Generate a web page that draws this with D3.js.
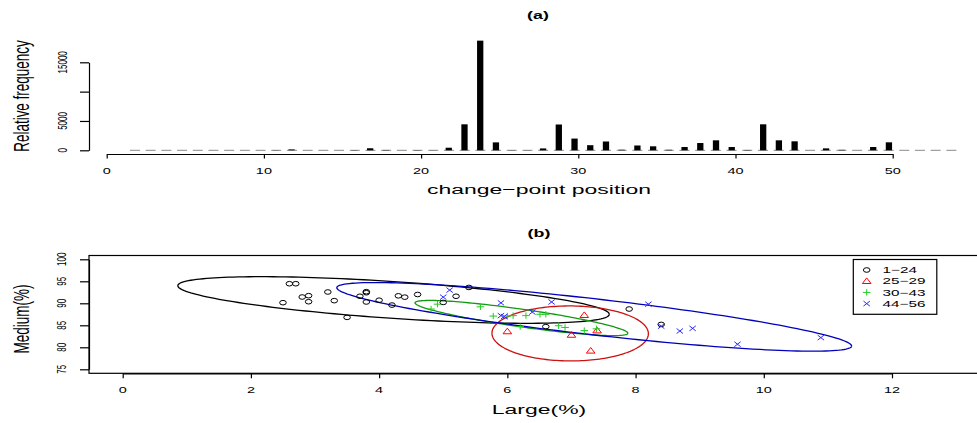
<!DOCTYPE html>
<html>
<head>
<meta charset="utf-8">
<script src="https://cdn.jsdelivr.net/npm/d3@7"></script>
<style>
  body { margin: 0; background: #fff; }
  text { font-family: "Liberation Sans", Arial, sans-serif; fill: #000; }
  .domain, .tick line { stroke-width: 1.2; }
</style>
</head>
<body>
<div id="container"></div>
<script>

// 1. The data

// (a) histogram of change-point positions
const positions = [2, 3, 4, 5, 6, 7, 8, 9, 10, 11, 12, 13, 14, 15, 16, 17, 18, 19, 20, 21,
    22, 23, 24, 25, 26, 27, 28, 29, 30, 31, 32, 33, 34, 35, 36, 37, 38, 39, 40, 41,
    42, 43, 44, 45, 46, 47, 48, 49, 50, 51, 52, 53, 54];
const frequencies = [0, 0, 0, 0, 0, 0, 0, 0, 0, 30, 150, 0, 0, 0, 40, 350, 60, 0, 40, 20,
    440, 4430, 18690, 1350, 30, 20, 320, 4400, 2000, 870, 1500, 100, 820, 680, 90, 560, 1240, 1700, 560, 60,
    4430, 1700, 1530, 0, 330, 80, 0, 560, 1360, 0, 0, 0, 0];
const ticksA_x = [0, 10, 20, 30, 40, 50];
const ticksA_y = [0, 5000, 10000, 15000];
const tickLabelsA_y = ["0", "5000", "", "15000"];

// (b) scatter, one list per group
const groups = ["1\u221224", "25\u221229", "30\u221243", "44\u221256"];
const largeG1 = [2.6, 2.7, 2.5, 2.8, 2.9, 2.9, 3.2, 3.3, 3.5, 3.7, 3.8, 3.8, 3.8, 4.0, 4.2, 4.3, 4.4, 4.6, 5.0, 5.2, 5.4, 7.9, 6.6, 8.4];
const mediumG1 = [94.45, 94.45, 90.14, 91.43, 91.73, 90.36, 92.57, 90.6, 86.8, 91.6, 92.64, 92.4, 90.3, 90.7, 89.6, 91.7, 91.4, 92.0, 90.2, 91.6, 93.6, 88.7, 84.7, 85.2];
const largeG2 = [7.2, 6.0, 7.0, 7.4, 7.3];
const mediumG2 = [87.3, 83.6, 82.8, 83.8, 79.2];
const largeG3 = [4.81, 4.91, 5.58, 5.78, 6.0, 6.09, 6.29, 6.51, 6.60, 6.20, 6.80, 6.90, 7.20, 7.39];
const mediumG3 = [88.7, 89.8, 89.2, 87.1, 87.1, 87.2, 87.2, 87.5, 87.5, 84.7, 84.9, 84.5, 83.8, 84.2];
const largeG4 = [5.0, 5.1, 5.9, 6.69, 8.2, 5.9, 5.95, 6.39, 8.4, 8.69, 8.89, 9.59, 10.89];
const mediumG4 = [91.4, 93.0, 90.1, 90.3, 89.8, 87.2, 87.0, 88.0, 84.8, 83.7, 84.3, 80.7, 82.2];

// ellipse of each group: centre, half extent in x, half extent in y, cos of phase
const ellCx = [4.225, 6.98, 6.22, 7.355];
const ellCy = [90.75, 83.15, 86.65, 86.92];
const ellA = [3.365, 1.22, 1.66, 4.015];
const ellB = [5.3, 6.25, 4.0, 7.8];
const ellCosD = [-0.613, -0.01, -0.8625, -0.849];

const ticksB_x = [0, 2, 4, 6, 8, 10, 12];
const ticksB_y = [75, 80, 85, 90, 95, 100];

// 2. Styles
const sx = 1.7;   // the picture is stretched sideways
const pointColors = ["#000000", "#ff0000", "#22cc22", "#2a2aff"];
const ellColors = ["#000000", "#cc1111", "#119911", "#0000bb"];

const width = 977;
const height = 423;

const svg = d3.select("#container")
              .append("svg")
              .attr("width", width)
              .attr("height", height)
              .style("display", "block");

svg.append("rect").attr("width", width).attr("height", height).attr("fill", "#fff");

function stretchText(g, x, y, str, size, opts) {
    opts = opts || {};
    const t = g.append("text")
        .attr("transform", "translate(" + x + "," + y + ") scale(" + sx + ",1)" + (opts.rotate ? " rotate(-90)" : ""))
        .attr("text-anchor", opts.anchor || "middle")
        .attr("dy", "0.35em")
        .style("font-size", size + "px")
        .text(str);
    if (opts.bold) t.style("font-weight", "bold");
    return t;
}

// 3. Panel (a)

var xA = d3.scaleLinear().domain([0, 50]).range([106.7, 892.7]);
var yA = d3.scaleLinear().domain([0, 15000]).range([150.3, 62.3]);
const barOffset = -0.24;
const barWidth = 0.4;

const gA = svg.append("g");

// dashed zero line across the plot region
gA.append("line")
  .attr("x1", xA(1.48))
  .attr("x2", xA(54.07))
  .attr("y1", yA(0))
  .attr("y2", yA(0))
  .attr("stroke", "#8a8a8a")
  .attr("stroke-width", 1)
  .attr("stroke-dasharray", "10,5.7");

gA.selectAll("rect.bar")
  .data(positions.map((p, i) => ({p: p, f: frequencies[i]})).filter(d => d.f > 0))
  .enter()
  .append("rect")
  .attr("class", "bar")
  .attr("x", d => xA(d.p + barOffset - barWidth / 2))
  .attr("width", d => xA(d.p + barOffset + barWidth / 2) - xA(d.p + barOffset - barWidth / 2))
  .attr("y", d => yA(d.f))
  .attr("height", d => yA(0) - yA(d.f))
  .attr("fill", "#000");

var xAxisA = d3.axisBottom(xA).tickValues(ticksA_x).tickSize(4.5).tickSizeOuter(0).tickFormat("");
gA.append("g")
  .attr("transform", "translate(0," + 154 + ")")
  .call(xAxisA);

var yAxisA = d3.axisLeft(yA).tickValues(ticksA_y).tickSize(9).tickSizeOuter(0).tickFormat("");
gA.append("g")
  .attr("transform", "translate(89,0)")
  .call(yAxisA);

ticksA_x.forEach(t => stretchText(gA, xA(t), 171, t, 8.5));
ticksA_y.forEach((t, i) => stretchText(gA, 62, yA(t), tickLabelsA_y[i], 8, {rotate: true}));

stretchText(gA, 538, 15, "(a)", 10.5, {bold: true});
stretchText(gA, 539, 189, "change\u2212point position", 13.5);
stretchText(gA, 21, 96, "Relative frequency", 13.5, {rotate: true});

// 4. Panel (b)

var xB = d3.scaleLinear().domain([0, 12]).range([122.7, 892]);
var yB = d3.scaleLinear().domain([75, 100]).range([369.3, 259.3]);

const gB = svg.append("g");

gB.append("rect")
  .attr("x", 89)
  .attr("y", 255.5)
  .attr("width", 910)
  .attr("height", 373.3 - 255.5)
  .attr("fill", "none")
  .attr("stroke", "#000")
  .attr("stroke-width", 1.2);

var xAxisB = d3.axisBottom(xB).tickValues(ticksB_x).tickSize(5).tickSizeOuter(0).tickFormat("");
gB.append("g")
  .attr("transform", "translate(0,373.3)")
  .call(xAxisB);

var yAxisB = d3.axisLeft(yB).tickValues(ticksB_y).tickSize(9).tickSizeOuter(0).tickFormat("");
gB.append("g")
  .attr("transform", "translate(89,0)")
  .call(yAxisB);

ticksB_x.forEach(t => stretchText(gB, xB(t), 390.5, t, 8.5));
ticksB_y.forEach(t => stretchText(gB, 61, yB(t), t, 8, {rotate: true}));

stretchText(gB, 539, 233, "(b)", 10.5, {bold: true});
stretchText(gB, 539, 409, "Large(%)", 13.5);
stretchText(gB, 21, 319, "Medium(%)", 13.5, {rotate: true});

// ellipses
const tSteps = d3.range(0, 2 * Math.PI + 0.001, Math.PI / 90);
const ellLine = d3.line().x(d => xB(d[0])).y(d => yB(d[1]));
ellCx.forEach((cx, i) => {
    const d0 = Math.acos(ellCosD[i]);
    const pts = tSteps.map(t => [cx + ellA[i] * Math.cos(t), ellCy[i] + ellB[i] * Math.cos(t - d0)]);
    gB.append("path")
      .attr("d", ellLine(pts))
      .attr("fill", "none")
      .attr("stroke", ellColors[i])
      .attr("stroke-width", 1.3);
});

// point markers, drawn in screen units
function marker(g, kind, x, y, color) {
    if (kind === 0) {
        g.append("ellipse").attr("cx", x).attr("cy", y).attr("rx", 3.3).attr("ry", 2.3)
         .attr("fill", "none").attr("stroke", color).attr("stroke-width", 1);
    } else if (kind === 1) {
        g.append("path")
         .attr("d", "M" + x + "," + (y - 3.3) + "L" + (x + 4.3) + "," + (y + 2.3) + "L" + (x - 4.3) + "," + (y + 2.3) + "Z")
         .attr("fill", "none").attr("stroke", color).attr("stroke-width", 1);
    } else if (kind === 2) {
        g.append("path")
         .attr("d", "M" + (x - 3.8) + "," + y + "H" + (x + 3.8) + "M" + x + "," + (y - 3.2) + "V" + (y + 3.2))
         .attr("fill", "none").attr("stroke", color).attr("stroke-width", 1);
    } else {
        g.append("path")
         .attr("d", "M" + (x - 3.2) + "," + (y - 2.5) + "L" + (x + 3.2) + "," + (y + 2.5) +
                    "M" + (x - 3.2) + "," + (y + 2.5) + "L" + (x + 3.2) + "," + (y - 2.5))
         .attr("fill", "none").attr("stroke", color).attr("stroke-width", 1);
    }
}

const groupX = [largeG1, largeG2, largeG3, largeG4];
const groupY = [mediumG1, mediumG2, mediumG3, mediumG4];
groupX.forEach((xs, k) => {
    xs.forEach((v, i) => marker(gB, k, xB(v), yB(groupY[k][i]), pointColors[k]));
});

// 5. Legend
const leg = gB.append("g");
leg.append("rect")
   .attr("x", 853.3)
   .attr("y", 259.5)
   .attr("width", 83.5)
   .attr("height", 54.8)
   .attr("fill", "#fff")
   .attr("stroke", "#000")
   .attr("stroke-width", 1.2);

groups.forEach((name, k) => {
    const yy = 270 + k * 11.2;
    marker(leg, k, 866.7, yy, pointColors[k]);
    stretchText(leg, 882.5, yy, name, 9, {anchor: "start"});
});

</script>
</body>
</html>
